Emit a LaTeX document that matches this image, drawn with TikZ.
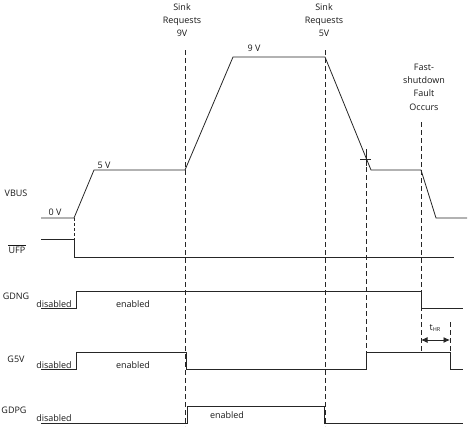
\documentclass[tikz,border=0pt]{standalone}
\usepackage{fontspec}
\setmainfont{Open Sans}
\usetikzlibrary{arrows.meta}
\begin{document}
\begin{tikzpicture}[x=1pt,y=-1pt,
  sig/.style={line width=0.8pt, draw=black!85},
  dashline/.style={line width=0.6pt, draw=black!85, dash pattern=on 5pt off 3pt},
  lbl/.style={font=\fontsize{9}{13.3}\selectfont, inner sep=0pt, align=center, text=black!90},
  dim/.style={line width=0.8pt, draw=black!85, {Latex[length=6.5pt,width=6pt]}-{Latex[length=6.5pt,width=6pt]}}]
\useasboundingbox (0,0) rectangle (468,426);

% event coordinates
\coordinate (e1t) at (185,50);  \coordinate (e1b) at (185,426);
\coordinate (e2t) at (325,50);  \coordinate (e2b) at (325,426);
\coordinate (e3t) at (366,159); \coordinate (e3b) at (366,352);
\coordinate (e4t) at (421,122); \coordinate (e4b) at (421,352);
\coordinate (e5t) at (450,322); \coordinate (e5b) at (450,352);
\coordinate (e0t) at (74,218);  \coordinate (e0b) at (74,239);

% dashed event lines
\draw[dashline] (e1t) -- (e1b);
\draw[dashline] (e2t) -- (e2b);
\draw[dashline] (e3t) -- (e3b);
\draw[dashline] (e4t) -- (e4b);
\draw[dashline] (e5t) -- (e5b);
\draw[line width=0.6pt, draw=black!85, dash pattern=on 3pt off 2pt] (e0t) -- (e0b);

% VBUS
\draw[sig] (41,218) -- (74,218) -- (94,170) -- (185,170) -- (233,57) -- (325,57)
  -- (371,170) -- (421,170) -- (436,218) -- (467,218);
% tick mark
\coordinate (tkl) at (360,159); \coordinate (tkr) at (371,159);
\coordinate (tkt) at (366,149); \coordinate (tkb) at (366,166);
\draw[line width=0.6pt, draw=black!85] (tkl) -- (tkr);
\draw[line width=0.6pt, draw=black!85] (tkt) -- (tkb);

% UFP
\draw[sig] (41,239) -- (74,239) -- (74,257) -- (454,257);
% GDNG
\draw[sig] (41,308) -- (76,308) -- (76,291) -- (421,291) -- (421,308) -- (463,308);
% G5V
\draw[sig] (41,369) -- (76,369) -- (76,352) -- (186,352) -- (186,369) -- (366,369)
  -- (366,352) -- (450,352) -- (450,369) -- (463,369);
% GDPG
\draw[sig] (41,423) -- (187,423) -- (187,406) -- (324,406) -- (324,423) -- (463,423);

% tHR dimension
\coordinate (hl) at (421,340); \coordinate (hr) at (450,340);
\draw[dim] (hl) -- (hr);
\node[lbl] (thr) at (435,328) {t{\fontsize{5.5}{6}\selectfont\raisebox{-0.8pt}{HR}}};

% labels
\node[lbl] (sr9) at (182,20) {Sink\\Requests\\9V};
\node[lbl] (sr5) at (324,20) {Sink\\Requests\\5V};
\node[lbl] (fsf) at (424,87) {Fast-\\shutdown\\Fault\\Occurs};
\node[lbl] (v0) at (55,212) {0 V};
\node[lbl] (v5) at (104,165) {5 V};
\node[lbl] (v9) at (254,48) {9 V};

\node[lbl] (lvbus) at (16,193) {VBUS};
\node[lbl] (lufp) at (17,250) {UFP};
\draw[line width=0.6pt, draw=black!90] ([yshift=1.5pt]lufp.north west) -- ([yshift=1.5pt]lufp.north east);
\node[lbl] (lgdng) at (16,296) {GDNG};
\node[lbl] (lg5v) at (16,359) {G5V};
\node[lbl] (lgdpg) at (14,410) {GDPG};

\node[lbl] (d1) at (54,304) {disabled};
\node[lbl] (d2) at (54,365) {disabled};
\node[lbl] (d3) at (54,418) {disabled};
\node[lbl] (en1) at (133,304) {enabled};
\node[lbl] (en2) at (133,365) {enabled};
\node[lbl] (en3) at (227,415) {enabled};
\end{tikzpicture}
\end{document}
